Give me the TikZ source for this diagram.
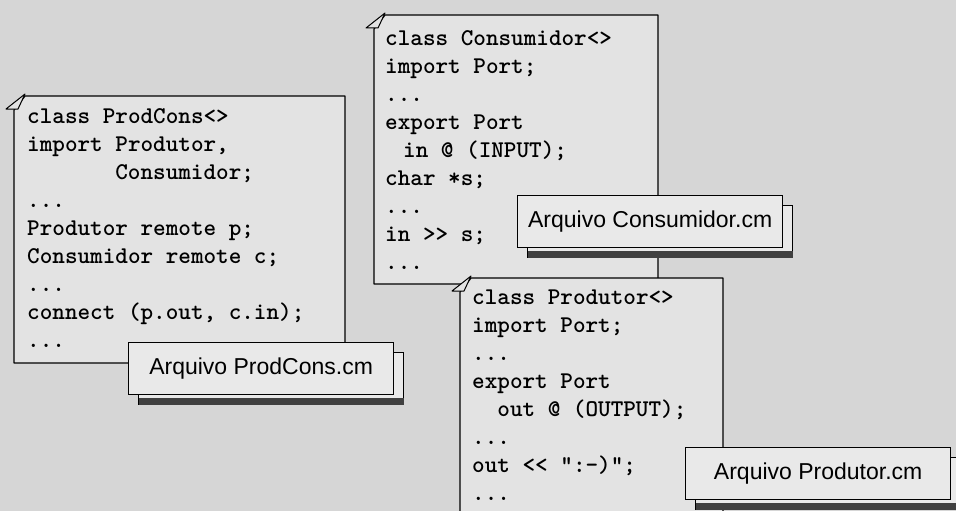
\documentclass[tikz,border=0pt]{standalone}
\usepackage{fontspec}
\setmainfont{Liberation Sans}
\usetikzlibrary{calc, shadows}

\definecolor{paper}{RGB}{214,214,214}
\definecolor{sheet}{RGB}{227,227,227}
\definecolor{tagfill}{RGB}{233,233,233}

\tikzset{
  sheetline/.style={line width=1.3pt, line join=round, fill=sheet},
  code/.style={anchor=north west, inner sep=0pt, align=left, font=\ttfamily\bfseries\fontsize{24}{28}\selectfont},
  filetag/.style={draw, line width=1.3pt, fill=tagfill, anchor=north west, inner sep=0pt,
    minimum width=265pt, minimum height=52pt, font=\fontsize{23}{26}\selectfont,
    copy shadow={shadow xshift=10pt, shadow yshift=-10pt}},
  tagband/.style={fill=black!75}
}

% sheet with dog-eared corner: x, y, width, height
\newcommand\dogsheet[4]{%
  \draw[sheetline] (#1+11,#2) -- (#1+#3,#2) -- (#1+#3,#2+#4) -- (#1,#2+#4) -- (#1,#2+14) -- cycle;
  \draw[sheetline, line width=1pt] (#1+11,#2-2) -- (#1-8,#2+13) -- (#1+4,#2+13) -- cycle;
}

\begin{document}
\begin{tikzpicture}[x=1pt, y=-1pt]
\fill[paper] (0,0) rectangle (956,511);
\useasboundingbox (0,0) rectangle (956,511);
\clip (0,0) rectangle (956,511);

% ProdCons
\dogsheet{14}{96}{331}{267}
\node[code] (pcsrc) at (27,108) {class ProdCons<>\\
import Produtor,\\
\phantom{xxxxxxx}Consumidor;\\
...\\
Produtor remote p;\\
Consumidor remote c;\\
...\\
connect (p.out, c.in);\\
...};
\node[filetag] (tagpc) at (128,342) {Arquivo ProdCons.cm};

% Consumidor
\dogsheet{374}{15}{284}{269}
\node[code] (conssrc) at (385,30) {class Consumidor<>\\
import Port;\\
...\\
export Port\\
\hspace*{18pt}in @ (INPUT);\\
char *s;\\
...\\
in >\kern0pt> s;\\
...};
\node[filetag] (tagcons) at (517,195) {Arquivo Consumidor.cm};

% Produtor
\dogsheet{460}{278}{263}{260}
\node[code] (prodsrc) at (472,290) {class Produtor<>\\
import Port;\\
...\\
export Port\\
\phantom{xx}out @ (OUTPUT);\\
...\\
out <\kern0pt< ":-)";\\
...};
\node[filetag] (tagprod) at (685,447) {Arquivo Produtor.cm};

\foreach \t in {tagpc, tagcons, tagprod}
  \fill[tagband] ($(\t.south west)+(11,3)$) rectangle ($(\t.south east)+(10,10)$);
\end{tikzpicture}
\end{document}
